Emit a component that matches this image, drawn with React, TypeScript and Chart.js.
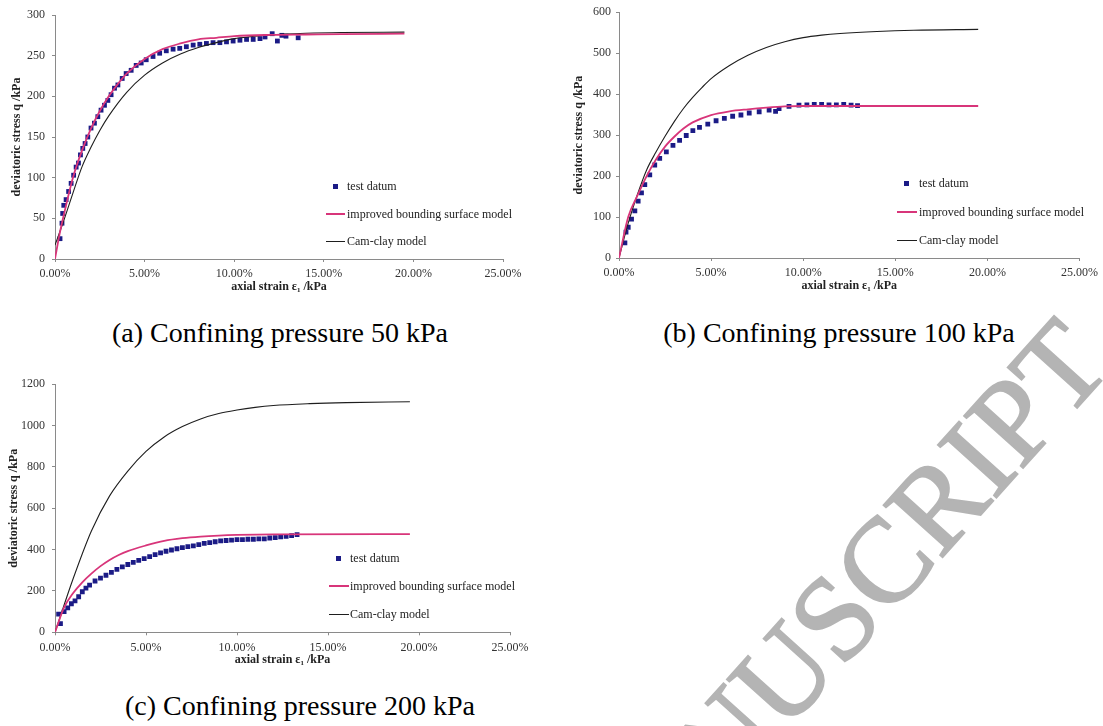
import React, { useEffect, useRef } from 'react';
import { Chart, registerables } from 'chart.js';

Chart.register(...registerables);

const FONT = "'Liberation Serif', 'Times New Roman', 'DejaVu Serif', serif";
const PINK = '#d8357a';
const NAVY = '#1b1b86';
const BLACK = '#1e1e1e';
const AXIS = '#8a8a8a';

// ---------- shared axis ticks ----------
const xTickValues = [0, 5, 10, 15, 20, 25];
const xTickLabels = ['0.00%', '5.00%', '10.00%', '15.00%', '20.00%', '25.00%'];

const legendLabels = ['test datum', 'improved bounding surface model', 'Cam-clay model'];

// ---------- (a) confining pressure 50 kPa ----------
const yTicksA = [0, 50, 100, 150, 200, 250, 300];
const strainTestA = [0.28, 0.39, 0.43, 0.49, 0.62, 0.76, 0.9, 1.04, 1.18, 1.31, 1.42, 1.55, 1.68, 1.83, 2.01, 2.2, 2.39, 2.57, 2.76, 2.95, 3.13, 3.32, 3.51, 3.75, 3.97, 4.25, 4.53, 4.81, 5.09, 5.47, 5.84, 6.21, 6.59, 6.96, 7.33, 7.71, 8.08, 8.45, 8.82, 9.2, 9.57, 9.94, 10.32, 10.69, 11.06, 11.44, 11.72, 12.12, 12.41, 12.66, 12.89, 13.57];
const stressTestA = [25, 44, 56, 66, 73, 83, 93, 103, 113, 118, 128, 136, 142, 150, 161, 167, 175, 183, 189, 195, 202, 210, 214, 222, 228, 232, 238, 241, 245, 249, 253, 256, 258, 259, 261, 263, 264, 265, 266, 266, 267, 268, 269, 270, 270, 271, 273, 277, 268, 275, 274, 272];
const strainImprovedA = [0, 0.25, 0.5, 1, 1.5, 2, 2.5, 3, 3.5, 4, 5, 6, 7, 8, 9, 10, 12, 14, 16, 19.5];
const stressImprovedA = [0, 30, 55, 100, 133, 160, 182, 200, 215, 228, 246, 258, 265, 270, 272, 274, 275.5, 276, 276.5, 277];
const strainCamA = [0, 0.5, 1, 1.5, 2, 2.5, 3, 4, 5, 6, 7, 8, 9, 10, 11, 12, 14, 16, 19.5];
const stressCamA = [17, 48, 81, 113, 137, 158, 176, 205, 226, 241, 252, 260, 266, 271, 273.5, 275.5, 277.5, 278.5, 279];

// ---------- (b) confining pressure 100 kPa ----------
const yTicksB = [0, 100, 200, 300, 400, 500, 600];
const strainTestB = [0.32, 0.38, 0.5, 0.68, 0.86, 1.04, 1.22, 1.4, 1.67, 1.94, 2.21, 2.57, 2.93, 3.29, 3.65, 4.01, 4.37, 4.82, 5.27, 5.72, 6.17, 6.62, 7.07, 7.61, 8.15, 8.5, 8.69, 9.23, 9.77, 10.2, 10.6, 11.0, 11.4, 11.8, 12.2, 12.6, 12.95];
const stressTestB = [37, 63, 75, 95, 115, 139, 159, 179, 203, 227, 243, 259, 275, 287, 299, 311, 319, 327, 335, 341, 346, 349, 354, 357, 361, 358, 365, 370, 373, 374, 375, 375, 374, 374, 375, 373, 372];
const strainImprovedB = [0, 0.5, 1, 1.5, 2, 2.5, 3, 3.5, 4, 5, 6, 7, 8, 9, 10, 12, 19.5];
const stressImprovedB = [0, 100, 152, 200, 240, 272, 296, 316, 331, 349, 358, 363, 367, 370, 371, 371, 371];
const strainCamB = [0, 0.5, 1, 1.5, 2, 2.5, 3, 3.5, 4, 4.5, 5, 6, 7, 8, 9, 10, 11, 12, 14, 16, 19.5];
const stressCamB = [0, 85, 155, 215, 258, 297, 333, 365, 392, 416, 438, 470, 495, 514, 528, 538, 544, 548, 553, 556, 558];

// ---------- (c) confining pressure 200 kPa ----------
const yTicksC = [0, 200, 400, 600, 800, 1000, 1200];
const strainTestC = [0.2, 0.3, 0.5, 0.7, 0.9, 1.1, 1.3, 1.5, 1.7, 1.9, 2.2, 2.5, 2.8, 3.1, 3.4, 3.7, 4.0, 4.3, 4.6, 4.9, 5.2, 5.5, 5.8, 6.1, 6.4, 6.7, 7.0, 7.3, 7.6, 7.9, 8.2, 8.5, 8.8, 9.1, 9.4, 9.7, 10.0, 10.3, 10.6, 10.9, 11.2, 11.5, 11.8, 12.1, 12.4, 12.7, 13.0, 13.3];
const stressTestC = [88, 42, 100, 118, 138, 152, 172, 196, 214, 228, 248, 262, 276, 290, 304, 316, 328, 338, 348, 356, 366, 376, 384, 392, 398, 404, 410, 414, 418, 424, 430, 434, 438, 442, 444, 446, 448, 448, 450, 450, 452, 452, 456, 458, 462, 464, 468, 472];
const strainImprovedC = [0, 0.5, 1, 1.5, 2, 2.5, 3, 3.5, 4, 5, 6, 7, 8, 9, 10, 12, 19.5];
const stressImprovedC = [0, 120, 190, 242, 284, 320, 350, 374, 393, 420, 442, 455, 463, 468, 471, 474, 475];
const strainCamC = [0, 1, 2, 3, 4, 5, 6, 7, 8, 9, 10, 11, 12, 14, 16, 19.5];
const stressCamC = [0, 260, 490, 660, 780, 875, 945, 995, 1032, 1058, 1075, 1088, 1097, 1106, 1111, 1115];

const toPoints = (xs: number[], ys: number[]) => xs.map((x, i) => ({ x, y: ys[i] }));

type PanelProps = {
  left: number;
  top: number;
  width: number;
  height: number;
  areaLeft: number;
  areaTop: number;
  areaRight: number;
  areaBottom: number;
  yTicks: number[];
  yTitlePad: number;
  yLabelPad: number;
  strainTest: number[];
  stressTest: number[];
  strainImproved: number[];
  stressImproved: number[];
  strainCam: number[];
  stressCam: number[];
};

const X_AXIS_H = 35;

function Panel(p: PanelProps) {
  const ref = useRef<HTMLCanvasElement>(null);
  useEffect(() => {
    if (!ref.current) return;
    const yMax = p.yTicks[p.yTicks.length - 1];
    const yStep = p.yTicks[1] - p.yTicks[0];
    const chart = new Chart(ref.current, {
      type: 'line',
      data: {
        datasets: [
          {
            label: legendLabels[1],
            data: toPoints(p.strainImproved, p.stressImproved),
            borderColor: PINK,
            backgroundColor: PINK,
            borderWidth: 1.8,
            pointRadius: 0,
            cubicInterpolationMode: 'monotone',
            fill: false,
          },
          {
            label: legendLabels[2],
            data: toPoints(p.strainCam, p.stressCam),
            borderColor: BLACK,
            backgroundColor: BLACK,
            borderWidth: 1.1,
            pointRadius: 0,
            cubicInterpolationMode: 'monotone',
            fill: false,
          },
          {
            label: legendLabels[0],
            data: toPoints(p.strainTest, p.stressTest),
            showLine: false,
            pointStyle: 'rect',
            pointRadius: 3.4,
            pointBackgroundColor: NAVY,
            pointBorderColor: NAVY,
            pointBorderWidth: 0,
            borderColor: NAVY,
            backgroundColor: NAVY,
          },
        ],
      },
      options: {
        animation: false,
        responsive: false,
        maintainAspectRatio: false,
        events: [],
        layout: {
          padding: {
            left: 0,
            top: p.areaTop,
            right: p.width - p.areaRight,
            bottom: p.height - p.areaBottom - X_AXIS_H,
          },
        },
        plugins: { legend: { display: false }, tooltip: { enabled: false } },
        scales: {
          x: {
            type: 'linear',
            min: 0,
            max: 25,
            afterBuildTicks: (axis: any) => {
              axis.ticks = xTickValues.map((v) => ({ value: v }));
            },
            afterFit: (axis: any) => {
              axis.height = X_AXIS_H;
            },
            ticks: {
              callback: (v: any) => xTickLabels[xTickValues.indexOf(Number(v))],
              font: { family: FONT, size: 12 },
              color: '#333',
              maxRotation: 0,
              autoSkip: false,
              padding: 5,
            },
            grid: { drawOnChartArea: false, drawTicks: true, tickLength: 3, color: AXIS },
            border: { display: true, color: AXIS, width: 1 },
            title: {
              display: true,
              text: 'axial strain ε₁ /kPa',
              font: { family: FONT, size: 12, weight: 'bold' },
              color: '#222',
              padding: { top: 0, bottom: 0 },
            },
          },
          y: {
            type: 'linear',
            min: 0,
            max: yMax,
            afterBuildTicks: (axis: any) => {
              axis.ticks = p.yTicks.map((v) => ({ value: v }));
            },
            afterFit: (axis: any) => {
              axis.width = p.areaLeft;
            },
            ticks: {
              stepSize: yStep,
              callback: (v: any) => String(v),
              font: { family: FONT, size: 12 },
              color: '#333',
              padding: p.yLabelPad,
            },
            grid: { drawOnChartArea: false, drawTicks: true, tickLength: 3, color: AXIS },
            border: { display: true, color: AXIS, width: 1 },
            title: {
              display: true,
              text: 'deviatoric stress q /kPa',
              font: { family: FONT, size: 12, weight: 'bold' },
              color: '#222',
              padding: { top: p.yTitlePad, bottom: 0 },
            },
          },
        },
      } as any,
    });
    return () => chart.destroy();
  }, []);
  return (
    <canvas
      ref={ref}
      width={p.width}
      height={p.height}
      style={{ position: 'absolute', left: p.left, top: p.top, width: p.width, height: p.height }}
    />
  );
}

type LegendProps = { sqX: number; lineX1: number; lineX2: number; textX: number; y0: number; y1: number; y2: number };

function Legend({ sqX, lineX1, lineX2, textX, y0, y1, y2 }: LegendProps) {
  const textStyle: React.CSSProperties = {
    position: 'absolute',
    left: textX,
    fontFamily: FONT,
    fontSize: 12,
    lineHeight: '14px',
    color: '#222',
    whiteSpace: 'nowrap',
  };
  return (
    <>
      <div style={{ position: 'absolute', left: sqX - 2.5, top: y0 - 2.5, width: 5, height: 5, background: NAVY }} />
      <div style={{ ...textStyle, top: y0 - 7 }}>{legendLabels[0]}</div>
      <div style={{ position: 'absolute', left: lineX1, top: y1 - 1, width: lineX2 - lineX1, height: 2, background: PINK }} />
      <div style={{ ...textStyle, top: y1 - 7 }}>{legendLabels[1]}</div>
      <div style={{ position: 'absolute', left: lineX1, top: y2 - 0.5, width: lineX2 - lineX1, height: 1.2, background: BLACK }} />
      <div style={{ ...textStyle, top: y2 - 7 }}>{legendLabels[2]}</div>
    </>
  );
}

function Caption({ cx, baseline, text }: { cx: number; baseline: number; text: string }) {
  return (
    <div
      style={{
        position: 'absolute',
        left: cx - 250,
        width: 500,
        top: baseline - 23,
        textAlign: 'center',
        fontFamily: FONT,
        fontSize: 28,
        lineHeight: '28px',
        color: '#000',
        whiteSpace: 'nowrap',
      }}
    >
      {text}
    </div>
  );
}

export default function App() {
  return (
    <div
      style={{
        position: 'fixed',
        left: 0,
        top: 0,
        width: 1103,
        height: 726,
        overflow: 'hidden',
        background: '#fff',
      }}
    >
      <Panel
        left={0}
        top={0}
        width={540}
        height={300}
        areaLeft={55}
        areaTop={15}
        areaRight={503}
        areaBottom={259}
        yTicks={yTicksA}
        yTitlePad={10}
        yLabelPad={7}
        strainTest={strainTestA}
        stressTest={stressTestA}
        strainImproved={strainImprovedA}
        stressImproved={stressImprovedA}
        strainCam={strainCamA}
        stressCam={stressCamA}
      />
      <Legend sqX={335} lineX1={326} lineX2={345} textX={347} y0={186} y1={214} y2={241} />

      <Panel
        left={560}
        top={0}
        width={543}
        height={300}
        areaLeft={59}
        areaTop={8}
        areaRight={521}
        areaBottom={258}
        yTicks={yTicksB}
        yTitlePad={12}
        yLabelPad={5}
        strainTest={strainTestB}
        stressTest={stressTestB}
        strainImproved={strainImprovedB}
        stressImproved={stressImprovedB}
        strainCam={strainCamB}
        stressCam={stressCamB}
      />
      <Legend sqX={906} lineX1={897} lineX2={917} textX={919} y0={183} y1={212} y2={240} />

      <Panel
        left={0}
        top={370}
        width={540}
        height={310}
        areaLeft={55}
        areaTop={13.5}
        areaRight={510}
        areaBottom={262.3}
        yTicks={yTicksC}
        yTitlePad={7}
        yLabelPad={7}
        strainTest={strainTestC}
        stressTest={stressTestC}
        strainImproved={strainImprovedC}
        stressImproved={stressImprovedC}
        strainCam={strainCamC}
        stressCam={stressCamC}
      />
      <Legend sqX={338} lineX1={329} lineX2={349} textX={350} y0={558} y1={586} y2={614} />

      <Caption cx={280} baseline={342} text="(a) Confining pressure 50 kPa" />
      <Caption cx={839} baseline={342} text="(b) Confining pressure 100 kPa" />
      <Caption cx={300} baseline={715} text="(c) Confining pressure 200 kPa" />

      <div
        style={{
          position: 'absolute',
          left: 87,
          top: 1358,
          fontFamily: FONT,
          fontSize: 120,
          lineHeight: '120px',
          color: '#b4b4b4',
          WebkitTextStroke: '2px #b4b4b4',
          whiteSpace: 'nowrap',
          transformOrigin: '0 0',
          transform: 'rotate(-48deg)',
          pointerEvents: 'none',
        }}
      >
        ACCEPTED MANUSCRIPT
      </div>
    </div>
  );
}
